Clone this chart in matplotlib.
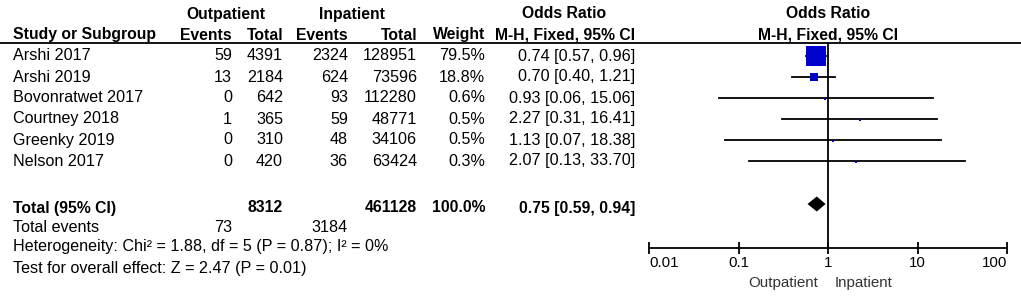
import matplotlib.pyplot as plt
import matplotlib.ticker as mticker
import numpy as np

plt.rcParams['font.family'] = ['Liberation Sans', 'DejaVu Sans']

# datos del forest plot
studies = ["Arshi 2017", "Arshi 2019", "Bovonratwet 2017", "Courtney 2018",
           "Greenky 2019", "Nelson 2017"]
out_events = [59, 13, 0, 1, 0, 0]
out_total = [4391, 2184, 642, 365, 310, 420]
in_events = [2324, 624, 93, 59, 48, 36]
in_total = [128951, 73596, 112280, 48771, 34106, 63424]
weights = [79.5, 18.8, 0.6, 0.5, 0.5, 0.3]
or_est = [0.74, 0.70, 0.93, 2.27, 1.13, 2.07]
ci_lo = [0.57, 0.40, 0.06, 0.31, 0.07, 0.13]
ci_hi = [0.96, 1.21, 15.06, 16.41, 18.38, 33.70]

total_out = 8312
total_in = 461128
total_weight = 100.0
total_or, total_lo, total_hi = 0.75, 0.59, 0.94
events_out, events_in = 73, 3184
heterogeneity = "Heterogeneity: Chi² = 1.88, df = 5 (P = 0.87); I² = 0%"
overall = "Test for overall effect: Z = 2.47 (P = 0.01)"

tick_vals = [0.01, 0.1, 1, 10, 100]
tick_labels = ["0.01", "0.1", "1", "10", "100"]

W, H = 1021, 301
fig = plt.figure(figsize=(W / 100, H / 100), dpi=100)

# eje de texto en coordenadas de pixel
ax = fig.add_axes([0, 0, 1, 1])
ax.set_xlim(0, W)
ax.set_ylim(H, 0)
ax.axis("off")

fs = 11.6
fsb = 11.3
row_y = [56, 77, 98, 119, 140, 161]
x_study, x_oe, x_ot, x_ie, x_it, x_w, x_or = 13, 232, 283, 348, 417, 485, 635

# cabeceras
ax.text(226, 14, "Outpatient", ha="center", va="center", fontsize=fsb, fontweight="bold")
ax.text(352, 14, "Inpatient", ha="center", va="center", fontsize=fsb, fontweight="bold")
ax.text(564, 14, "Odds Ratio", ha="center", va="center", fontsize=fsb, fontweight="bold")
ax.text(828, 14, "Odds Ratio", ha="center", va="center", fontsize=fsb, fontweight="bold")
ax.text(x_study, 35, "Study or Subgroup", ha="left", va="center", fontsize=fsb, fontweight="bold")
for x, s in [(x_oe, "Events"), (x_ot, "Total"), (x_ie, "Events"), (x_it, "Total"),
             (x_w, "Weight"), (x_or, "M-H, Fixed, 95% CI")]:
    ax.text(x, 35, s, ha="right", va="center", fontsize=fsb, fontweight="bold")
ax.text(828, 35, "M-H, Fixed, 95% CI", ha="center", va="center", fontsize=fsb, fontweight="bold")
ax.axhline(43, color="black", lw=1.3)

# filas de estudios
for i, y in enumerate(row_y):
    ax.text(x_study, y, studies[i], ha="left", va="center", fontsize=fs)
    ax.text(x_oe, y, str(out_events[i]), ha="right", va="center", fontsize=fs)
    ax.text(x_ot, y, str(out_total[i]), ha="right", va="center", fontsize=fs)
    ax.text(x_ie, y, str(in_events[i]), ha="right", va="center", fontsize=fs)
    ax.text(x_it, y, str(in_total[i]), ha="right", va="center", fontsize=fs)
    ax.text(x_w, y, f"{weights[i]:.1f}%", ha="right", va="center", fontsize=fs)
    ax.text(x_or, y, f"{or_est[i]:.2f} [{ci_lo[i]:.2f}, {ci_hi[i]:.2f}]",
            ha="right", va="center", fontsize=fs)

# totales
y_tot = 208
ax.text(x_study, y_tot, "Total (95% CI)", ha="left", va="center", fontsize=fsb, fontweight="bold")
ax.text(x_ot, y_tot, str(total_out), ha="right", va="center", fontsize=fsb, fontweight="bold")
ax.text(x_it, y_tot, str(total_in), ha="right", va="center", fontsize=fsb, fontweight="bold")
ax.text(x_w, y_tot, f"{total_weight:.1f}%", ha="right", va="center", fontsize=fsb, fontweight="bold")
ax.text(x_or, y_tot, f"{total_or:.2f} [{total_lo:.2f}, {total_hi:.2f}]",
        ha="right", va="center", fontsize=fsb, fontweight="bold")
ax.text(x_study, 228, "Total events", ha="left", va="center", fontsize=fs)
ax.text(x_oe, 228, str(events_out), ha="right", va="center", fontsize=fs)
ax.text(x_ie, 228, str(events_in), ha="right", va="center", fontsize=fs)
ax.text(x_study, 247, heterogeneity, ha="left", va="center", fontsize=fs)
ax.text(x_study, 268, overall, ha="left", va="center", fontsize=fs)

# etiquetas bajo el eje
ax.text(818, 283, "Outpatient", ha="right", va="center", fontsize=10.9, color="#333333")
ax.text(835, 283, "Inpatient", ha="left", va="center", fontsize=10.9, color="#333333")

# forest plot (escala log)
fx = fig.add_axes([649 / W, 0, (1007 - 649) / W, 1])
fx.set_xscale("log")
fx.set_xlim(0.01, 100)
fx.set_ylim(H, 0)
fx.patch.set_alpha(0)
for sp in ["top", "left", "right"]:
    fx.spines[sp].set_visible(False)
fx.spines["bottom"].set_position(("data", 248))
fx.spines["bottom"].set_linewidth(1.3)
fx.yaxis.set_visible(False)
fx.xaxis.set_major_locator(mticker.FixedLocator(tick_vals))
fx.xaxis.set_minor_locator(mticker.NullLocator())
fx.set_xticklabels(tick_labels)
fx.tick_params(axis="x", direction="inout", length=9, width=1.3, pad=1.5, labelsize=10.9)
labs = fx.get_xticklabels()
labs[0].set_ha("left")
labs[-1].set_ha("right")

fx.plot([1, 1], [43, 248], color="black", lw=1.3)

blue = "#0000CC"
for i, y in enumerate(row_y):
    fx.plot([ci_lo[i], ci_hi[i]], [y, y], color="black", lw=1.3)
    side = max(2.2, 19.5 * (weights[i] / max(weights)) ** 0.65) * 0.72
    fx.plot(or_est[i], y + (0 if weights[i] > 5 else 1), marker="s", ms=side,
            color=blue, mec=blue, mew=0)

# diamante del total
fx.fill([total_lo, total_or, total_hi, total_or],
        [y_tot - 4, y_tot - 11.5, y_tot - 4, y_tot + 3.5], color="black", lw=0)

fig.savefig("out.png", dpi=100)
